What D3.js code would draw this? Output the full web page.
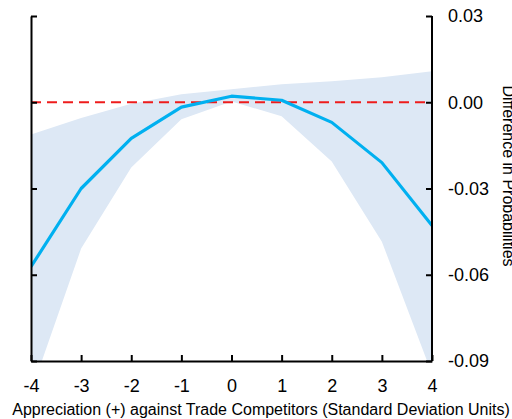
<!DOCTYPE html>
<html><head><meta charset="utf-8">
<script src="https://cdn.jsdelivr.net/npm/d3@7"></script>
<style>body{margin:0;background:#fff}svg{display:block}text{font-family:"Liberation Sans",Arial,sans-serif}</style>
</head><body>
<div id="chart"></div>
<script>
const xValues = [-4, -3, -2, -1, 0, 1, 2, 3, 4];
const estimate = [-0.0572, -0.0300, -0.0126, -0.0017, 0.0021, 0.0007, -0.0070, -0.0210, -0.0429];
const upper = [-0.0112, -0.0055, -0.0005, 0.0028, 0.0045, 0.0063, 0.0073, 0.0087, 0.0108];
const lower = [-0.1008, -0.0509, -0.0227, -0.0059, 0.0003, -0.0049, -0.0206, -0.0485, -0.0945];
const yTicks = [0.03, 0.00, -0.03, -0.06, -0.09];
const xLabel = "Appreciation (+) against Trade Competitors (Standard Deviation Units)";
const yLabel = "Difference in Probabilities";

const W = 512, H = 419;
const m = {left: 31, right: 80, top: 16, bottom: 58};
const svg = d3.select("#chart").append("svg").attr("width", W).attr("height", H);
const x = d3.scaleLinear().domain([-4, 4]).range([m.left, W - m.right]);
const y = d3.scaleLinear().domain([-0.09, 0.03]).range([H - m.bottom, m.top]);

svg.append("clipPath").attr("id", "clip").append("rect")
  .attr("x", x(-4)).attr("y", y(0.03)).attr("width", x(4) - x(-4)).attr("height", y(-0.09) - y(0.03));

const data = xValues.map((v, i) => ({x: v, e: estimate[i], u: upper[i], l: lower[i]}));
const g = svg.append("g").attr("clip-path", "url(#clip)");
g.append("path").datum(data)
  .attr("d", d3.area().x(d => x(d.x)).y0(d => y(d.l)).y1(d => y(d.u)))
  .attr("fill", "#dde8f5");
g.append("line").attr("x1", x(-4)).attr("x2", x(4)).attr("y1", y(0)).attr("y2", y(0))
  .attr("stroke", "#ee1c1c").attr("stroke-width", 2).attr("stroke-dasharray", "10,6");
g.append("path").datum(data)
  .attr("d", d3.line().x(d => x(d.x)).y(d => y(d.e)))
  .attr("fill", "none").attr("stroke", "#00b0f0").attr("stroke-width", 3.2).attr("stroke-linejoin", "round");

const axisStyle = sel => { sel.selectAll("path, line").attr("stroke", "#000").attr("stroke-width", 2);
  sel.selectAll("text").attr("font-size", 18).attr("fill", "#000").attr("font-family", '"Liberation Sans",Arial,sans-serif'); };
const fmt = d => (d < 0 ? "-" : "") + d3.format(".2f")(Math.abs(d));

const right = svg.append("g").attr("transform", `translate(${x(4)},0)`)
  .call(d3.axisRight(y).tickValues(yTicks).tickFormat(fmt).tickSizeInner(-6).tickSizeOuter(0).tickPadding(16));
right.call(axisStyle);
right.select(".domain").attr("d", `M0,${y(0.03)}V${y(-0.09)}`);

const left = svg.append("g").attr("transform", `translate(${x(-4)},0)`)
  .call(d3.axisLeft(y).tickValues(yTicks).tickFormat("").tickSizeInner(-6).tickSizeOuter(0));
left.call(axisStyle);

const bottom = svg.append("g").attr("transform", `translate(0,${y(-0.09)})`)
  .call(d3.axisBottom(x).tickValues(xValues).tickFormat(d => (d < 0 ? "-" : "") + Math.abs(d)).tickSizeInner(-6).tickSizeOuter(0).tickPadding(18));
bottom.call(axisStyle);

svg.append("text").attr("x", 261).attr("y", 415).attr("text-anchor", "middle")
  .attr("font-size", 16).text(xLabel);
svg.append("text").attr("transform", `translate(503,176) rotate(90)`)
  .attr("text-anchor", "middle").attr("font-size", 16).text(yLabel);
</script>
</body></html>
